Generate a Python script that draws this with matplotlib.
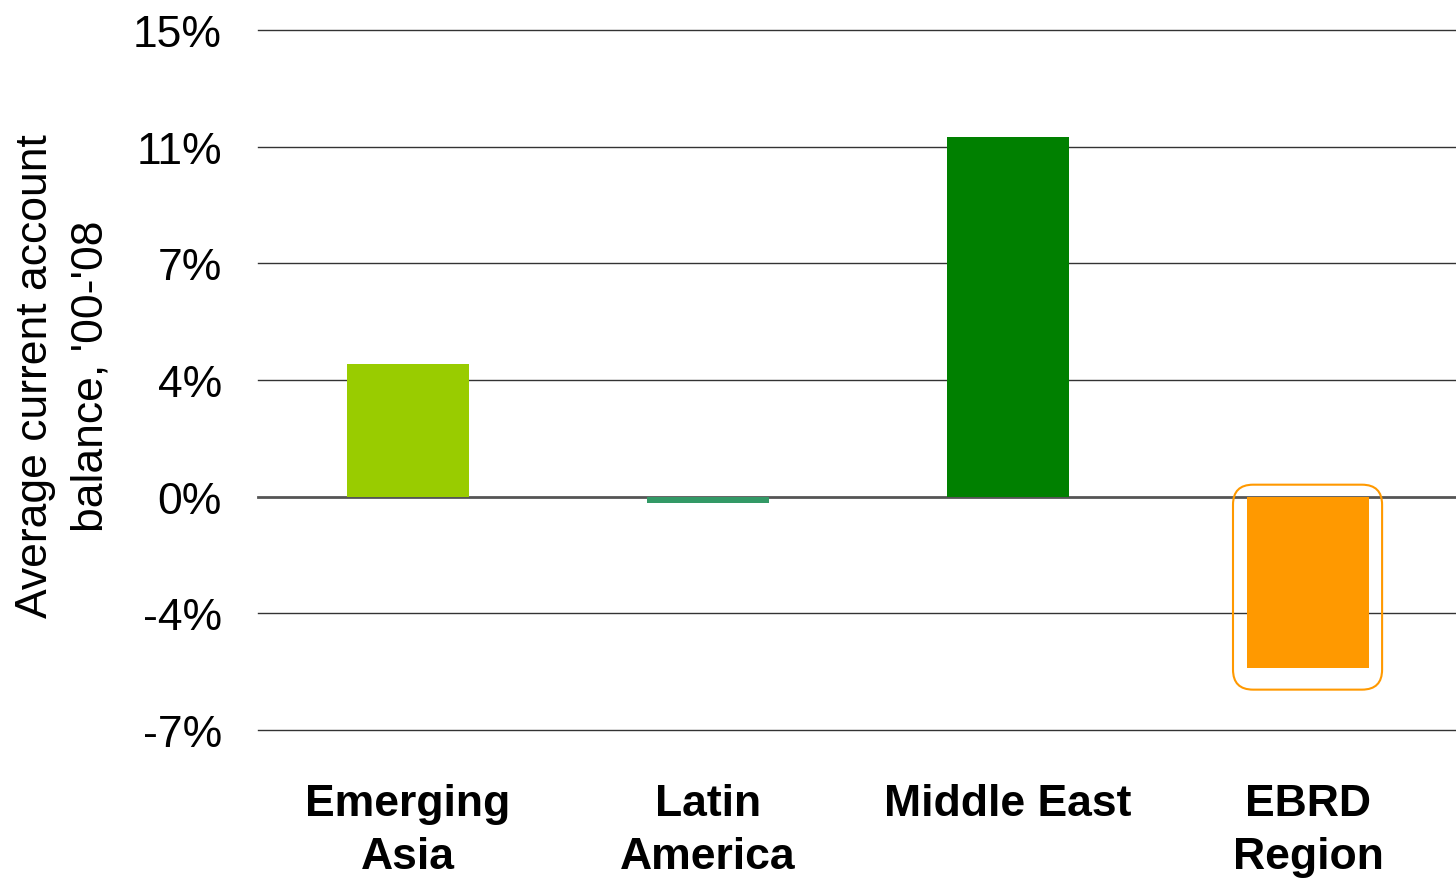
import matplotlib
matplotlib.use('Agg')
from matplotlib import pyplot as plt
from matplotlib.patches import FancyBboxPatch
import numpy as np

plt.rcParams['font.family'] = ['Liberation Sans', 'DejaVu Sans']

regions = ['Emerging\nAsia', 'Latin\nAmerica', 'Middle East', 'EBRD\nRegion']
balance = [4.22, -0.2, 11.4, -5.42]   # average current account balance, % of GDP
colors = ['#99CC00', '#339966', '#008000', '#FF9900']

ticks = [-7.4, -3.7, 0.0, 3.7, 7.4, 11.1, 14.8]
tick_labels = ['-7%', '-4%', '0%', '4%', '7%', '11%', '15%']

fig = plt.figure(figsize = (14.56, 8.79), dpi = 100)
ax = fig.add_axes([258 / 1456, 148 / 879, 1200 / 1456, 700 / 879])

x = np.arange(len(regions))
ax.bar(x, balance, width = 0.407, color = colors, zorder = 3)

# highlight around the EBRD bar
box = FancyBboxPatch((2.75, balance[3] - 0.7), 0.497, 0.38 - balance[3] + 0.7,
                     boxstyle = 'round,pad=0,rounding_size=0.067',
                     mutation_aspect = 9.5, facecolor = 'none',
                     edgecolor = '#FF9900', linewidth = 1.5, zorder = 4)
ax.add_patch(box)

for t in ticks:
    if t == 0:
        ax.axhline(t, color = '#555555', linewidth = 2, zorder = 2, clip_on = False)
    else:
        ax.axhline(t, color = '#333333', linewidth = 1, zorder = 1, clip_on = False)

ax.set_xlim(-0.5, 3.5)
ax.set_ylim(-7.4, 14.8)
ax.set_yticks(ticks)
ax.set_yticklabels(tick_labels, fontsize = 32)
ax.set_xticks(x)
ax.set_xticklabels(regions, fontsize = 32, fontweight = 'bold', linespacing = 1.38)
ax.tick_params(axis = 'both', length = 0)
ax.tick_params(axis = 'y', pad = 26)
ax.tick_params(axis = 'x', pad = 38)
for s in ax.spines.values():
    s.set_visible(False)

fig.text(63 / 1456, 1 - 376 / 879, "Average current account\nbalance, '00-'08",
         rotation = 90, fontsize = 32, ha = 'center', va = 'center',
         multialignment = 'center', linespacing = 1.45)

fig.savefig('out.png', dpi = 100)
